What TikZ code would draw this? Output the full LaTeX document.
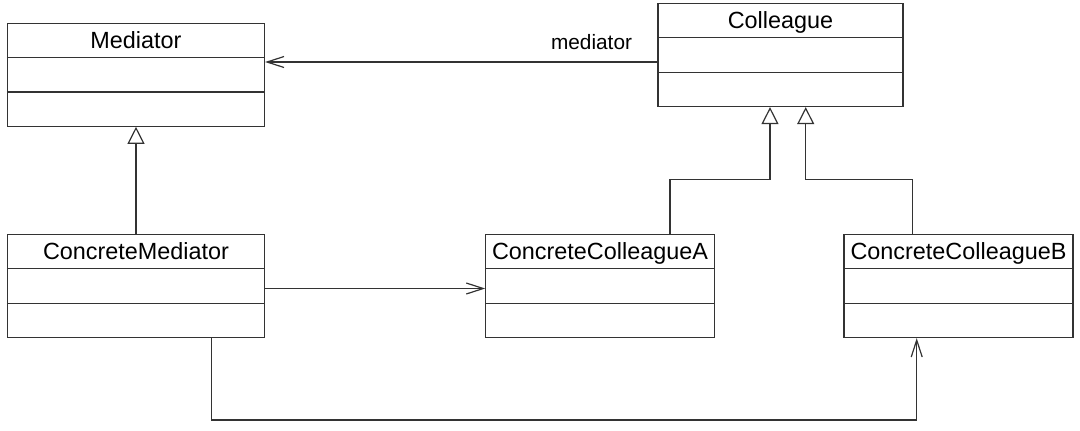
\documentclass[tikz,border=0pt]{standalone}
\usepackage{fontspec}
\setmainfont{Liberation Sans}
\usetikzlibrary{arrows.meta, calc}
\definecolor{linegray}{HTML}{333333}

\begin{document}
\begin{tikzpicture}[x=0.5pt, y=-0.5pt]
% Define the node styles
\tikzstyle{umlclass} = [draw=linegray, line width=0.6pt, rectangle, inner sep=0pt, minimum height=51.5pt]
\tikzstyle{title} = [inner sep=0pt, text height=8.4pt, text depth=0pt, font=\fontsize{11.7}{14}\selectfont]
\tikzstyle{rolename} = [inner sep=0pt, font=\fontsize{10.4}{12}\selectfont]
\tikzstyle{divider} = [draw=linegray, line width=0.6pt]
\tikzstyle{assoc} = [draw=linegray, line width=0.6pt, -{Straight Barb[length=8.5pt, width=5.5pt]}]
\tikzstyle{inherit} = [draw=linegray, line width=0.6pt, -{Triangle[open, fill=white, length=8.5pt, width=8.5pt]}]

\useasboundingbox (0,0) rectangle (1080,430);

% Define the classes
\node[umlclass, minimum width=128.5pt] (med) at (136, 74.7) {};
\node[umlclass, minimum width=122.5pt] (col) at (780.5, 55) {};
\node[umlclass, minimum width=128.5pt] (cmed) at (136, 286) {};
\node[umlclass, minimum width=114.2pt] (ca) at (600, 286) {};
\node[umlclass, minimum width=114.5pt] (cb) at (958.5, 286) {};

% Class names
\node[title] (med-t) at ($(med.north)!1/6!(med.south)$) {Mediator};
\node[title] (col-t) at ($(col.north)!1/6!(col.south)$) {Colleague};
\node[title] (cmed-t) at ($(cmed.north)!1/6!(cmed.south)$) {ConcreteMediator};
\node[title] (ca-t) at ($(ca.north)!1/6!(ca.south)$) {ConcreteColleagueA};
\node[title] (cb-t) at ($(cb.north)!1/6!(cb.south)$) {ConcreteColleagueB};

% Compartment lines
\draw[divider] ($(med.north west)!1/3!(med.south west)$) -- ($(med.north east)!1/3!(med.south east)$);
\draw[divider] ($(med.north west)!2/3!(med.south west)$) -- ($(med.north east)!2/3!(med.south east)$);
\draw[divider] ($(col.north west)!1/3!(col.south west)$) -- ($(col.north east)!1/3!(col.south east)$);
\draw[divider] ($(col.north west)!2/3!(col.south west)$) -- ($(col.north east)!2/3!(col.south east)$);
\draw[divider] ($(cmed.north west)!1/3!(cmed.south west)$) -- ($(cmed.north east)!1/3!(cmed.south east)$);
\draw[divider] ($(cmed.north west)!2/3!(cmed.south west)$) -- ($(cmed.north east)!2/3!(cmed.south east)$);
\draw[divider] ($(ca.north west)!1/3!(ca.south west)$) -- ($(ca.north east)!1/3!(ca.south east)$);
\draw[divider] ($(ca.north west)!2/3!(ca.south west)$) -- ($(ca.north east)!2/3!(ca.south east)$);
\draw[divider] ($(cb.north west)!1/3!(cb.south west)$) -- ($(cb.north east)!1/3!(cb.south east)$);
\draw[divider] ($(cb.north west)!2/3!(cb.south west)$) -- ($(cb.north east)!2/3!(cb.south east)$);

% Association Colleague -> Mediator
\coordinate (m1) at ([yshift=-3.5pt]col.west);
\draw[assoc] (m1) -- (m1 -| med.east);
\node[rolename, anchor=base east] (role) at ([xshift=-12.5pt, yshift=6.5pt]m1) {mediator};

% Generalizations
\draw[inherit] (cmed.north) -- (med.north |- med.south);
\coordinate (ga) at ([xshift=-5.25pt]col.south);
\coordinate (gb) at ([xshift=12.6pt]col.south);
\draw[inherit] ([xshift=35pt]ca.north) -- ++(0,27.2pt) -| (ga);
\draw[inherit] ([xshift=-22.9pt]cb.north) -- ++(0,27.2pt) -| (gb);

% Associations from ConcreteMediator
\draw[assoc] ([yshift=-1.25pt]cmed.east) -- ([yshift=-1.25pt]ca.west);
\draw[assoc] ([xshift=37.85pt]cmed.south) -- ++(0,-40.9pt) -| ([xshift=-20.9pt]cb.south);

\end{tikzpicture}
\end{document}
